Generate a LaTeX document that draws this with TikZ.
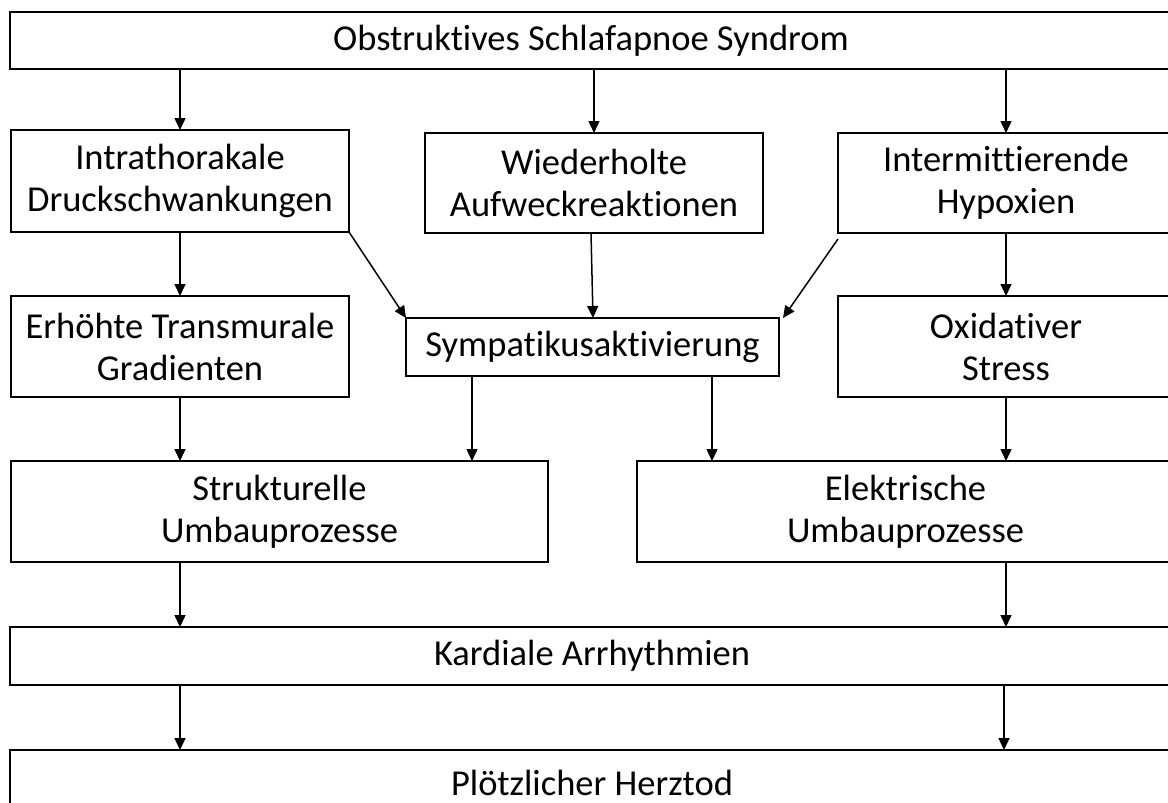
\documentclass[tikz,border=0pt]{standalone}
\usepackage{fontspec}
\setmainfont{Carlito}[Ligatures={NoCommon}]
\usetikzlibrary{arrows.meta,calc}
\begin{document}
\begin{tikzpicture}[x=1pt,y=-1pt,
  box/.style={draw=black,line width=1.8pt,rectangle,inner sep=0pt,outer sep=0pt,align=center,
    font=\fontsize{36.5pt}{42pt}\selectfont},
  arr/.style={line width=1.5pt,-{Triangle[width=11pt,length=12pt]}}]
\useasboundingbox (0,0) rectangle (1168,803);
\clip (0,0) rectangle (1168,803);
\newcommand\bx[6]{\node[box,minimum width={#4-#2},minimum height={#5-#3}] (#1) at ({(#2+#4)/2},{(#3+#5)/2}) {#6};}
\bx{osa}{10}{12}{1172}{69}{Obstruktives Schlafapnoe Syndrom}
\bx{itd}{11}{130}{349}{232}{Intrathorakale\\Druckschwankungen}
\bx{wa}{425}{133}{763}{233}{Wiederholte\\Aufweckreaktionen}
\bx{ih}{838}{133}{1174}{233}{Intermittierende\\Hypoxien}
\bx{etg}{11}{296}{349}{397}{Erhöhte Transmurale\\Gradienten}
\bx{sym}{406}{318}{779}{376}{Sympatikusaktivierung}
\bx{ox}{838}{296}{1174}{397}{Oxidativer\\Stress}
\bx{su}{11}{461}{548}{562}{Strukturelle\\Umbauprozesse}
\bx{eu}{637}{461}{1174}{562}{Elektrische\\Umbauprozesse}
\bx{ka}{10}{627}{1174}{685}{Kardiale Arrhythmien}
\bx{ph}{10}{750}{1174}{816}{Plötzlicher Herztod}
% arrows
\draw[arr] (osa.south -| itd.south) -- (itd.north);
\draw[arr] (osa.south -| wa.south) -- (wa.north);
\draw[arr] (osa.south -| 1006,0) -- (ih.north -| 1006,0);
\draw[arr] (itd.south) -- (etg.north -| itd.south);
\draw[arr] (ih.south -| 1006,0) -- (ox.north -| 1006,0);
\draw[arr] ($(wa.south)+(-3,0)$) -- ($(sym.north)+(0.5,0)$);
\draw[arr] (itd.south east) -- (sym.north west);
\draw[arr] ($(ih.south west)+(0,6)$) -- ($(sym.north east)+(4,0)$);
\draw[arr] (etg.south) -- (su.north -| etg.south);
\draw[arr] (sym.south -| 472,0) -- (su.north -| 472,0);
\draw[arr] (sym.south -| 712,0) -- (eu.north -| 712,0);
\draw[arr] (ox.south -| 1006,0) -- (eu.north -| 1006,0);
\draw[arr] (su.south -| 180,0) -- (ka.north -| 180,0);
\draw[arr] (eu.south -| 1006,0) -- (ka.north -| 1006,0);
\draw[arr] (ka.south -| 180,0) -- (ph.north -| 180,0);
\draw[arr] (ka.south -| 1004,0) -- (ph.north -| 1004,0);
\end{tikzpicture}
\end{document}
